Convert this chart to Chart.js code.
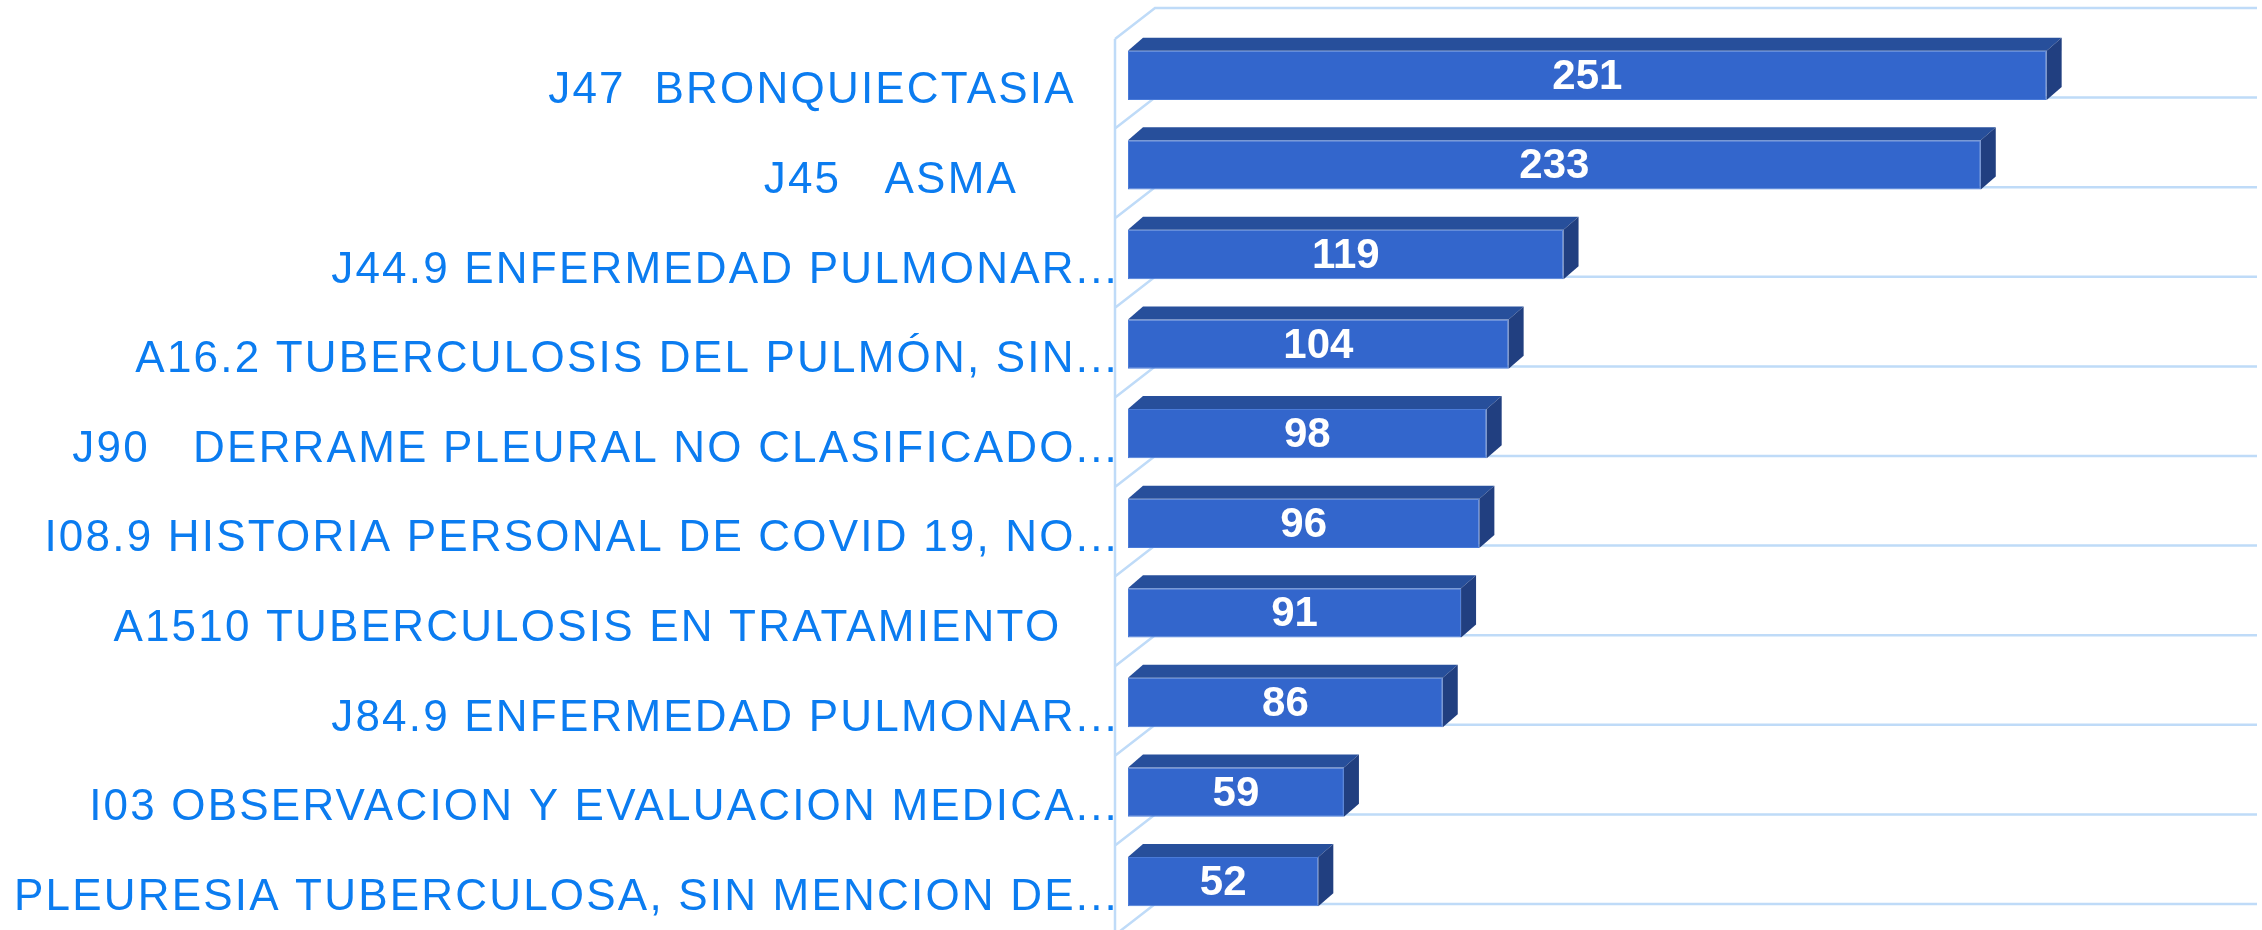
<!DOCTYPE html>
<html>
<head>
<meta charset="utf-8">
<script src="https://cdn.jsdelivr.net/npm/chart.js@4/dist/chart.umd.min.js"></script>
<style>
  body { margin: 0; background: #fff; }
</style>
</head>
<body>
<canvas id="diagChart" width="2262" height="930"></canvas>
<script>
const diagnosticos = [
    'J47  BRONQUIECTASIA   ',
    'J45   ASMA       ',
    'J44.9 ENFERMEDAD PULMONAR...',
    'A16.2 TUBERCULOSIS DEL PULMÓN, SIN...',
    'J90   DERRAME PLEURAL NO CLASIFICADO...',
    'I08.9 HISTORIA PERSONAL DE COVID 19, NO...',
    'A1510 TUBERCULOSIS EN TRATAMIENTO    ',
    'J84.9 ENFERMEDAD PULMONAR...',
    'I03 OBSERVACION Y EVALUACION MEDICA...',
    'PLEURESIA TUBERCULOSA, SIN MENCION DE...'
]
const casos = [251, 233, 119, 104, 98, 96, 91, 86, 59, 52]

const frontColor = '#3366CC'
const topColor = '#274F9B'
const sideColor = '#213F80'
const wallColor = '#BFDBF8'
const labelColor = '#0B7CF0'

// fake 3d: box depth of the bars and of the back wall
const barDx = 15, barDy = 13
const wallFront = 13, wallBack = 27, wallDy = 31, backShift = 22.5

const wallPlugin = {
    id: 'wall3d',
    beforeDraw(chart) {
        chart.ctx.letterSpacing = '2.2px'
    },
    beforeDatasetsDraw(chart) {
        const ctx = chart.ctx
        ctx.letterSpacing = '0px'
        const x = chart.scales.x
        const y = chart.scales.y
        const band = y.height / diagnosticos.length
        const xf = x.left - wallFront
        const xb = x.left + wallBack
        ctx.save()
        ctx.strokeStyle = wallColor
        ctx.lineWidth = 2.5
        ctx.beginPath()
        for (let k = 0; k <= diagnosticos.length; k++) {
            const yb = y.top + k * band - backShift
            ctx.moveTo(xf, yb + wallDy)
            ctx.lineTo(xb, yb)
            ctx.lineTo(x.right + 31, yb)
        }
        const y0 = y.top - backShift + wallDy
        ctx.moveTo(xf, y0)
        ctx.lineTo(xf, chart.height)
        ctx.stroke()
        ctx.restore()
    },
    afterDatasetsDraw(chart) {
        const ctx = chart.ctx
        const meta = chart.getDatasetMeta(0)
        ctx.save()
        meta.data.forEach((bar, i) => {
            const x0 = bar.base
            const x1 = bar.x
            const yt = bar.y - bar.height / 2
            const ybt = bar.y + bar.height / 2
            ctx.fillStyle = topColor
            ctx.beginPath()
            ctx.moveTo(x0, yt)
            ctx.lineTo(x0 + barDx, yt - barDy)
            ctx.lineTo(x1 + barDx, yt - barDy)
            ctx.lineTo(x1, yt)
            ctx.closePath()
            ctx.fill()
            ctx.fillStyle = sideColor
            ctx.beginPath()
            ctx.moveTo(x1, yt)
            ctx.lineTo(x1 + barDx, yt - barDy)
            ctx.lineTo(x1 + barDx, ybt - barDy)
            ctx.lineTo(x1, ybt)
            ctx.closePath()
            ctx.fill()

            ctx.fillStyle = '#ffffff'
            ctx.font = 'bold 42px "Liberation Sans", Arial, sans-serif'
            ctx.textAlign = 'center'
            ctx.textBaseline = 'middle'
            ctx.fillText(String(casos[i]), (x0 + x1) / 2, bar.y + 2)
        })
        ctx.restore()
    }
}

const ctx = document.getElementById('diagChart').getContext('2d')
const diagChart = new Chart(ctx, {
    type: 'bar',
    data: {
        labels: diagnosticos,
        datasets: [{
            data: casos,
            backgroundColor: frontColor,
            borderColor: '#4A7BD8',
            borderWidth: 1,
            borderSkipped: false,
            categoryPercentage: 1,
            barPercentage: 0.55
        }]
    },
    options: {
        indexAxis: 'y',
        responsive: false,
        animation: false,
        layout: { padding: { top: 30.5, bottom: 3.5, right: 36, left: 0 } },
        plugins: {
            legend: { display: false },
            tooltip: { enabled: false }
        },
        scales: {
            x: {
                display: false,
                min: 0,
                max: 300
            },
            y: {
                grid: { display: false, drawTicks: false, tickLength: 0 },
                border: { display: false },
                ticks: {
                    color: labelColor,
                    padding: 9,
                    labelOffset: 16,
                    autoSkip: false,
                    font: { family: '"Liberation Sans", Arial, sans-serif', size: 44 }
                },
                afterFit(scale) {
                    scale.width = 1128
                    scale.paddingTop = 0
                    scale.paddingBottom = 0
                }
            }
        }
    },
    plugins: [wallPlugin]
})
</script>
</body>
</html>
